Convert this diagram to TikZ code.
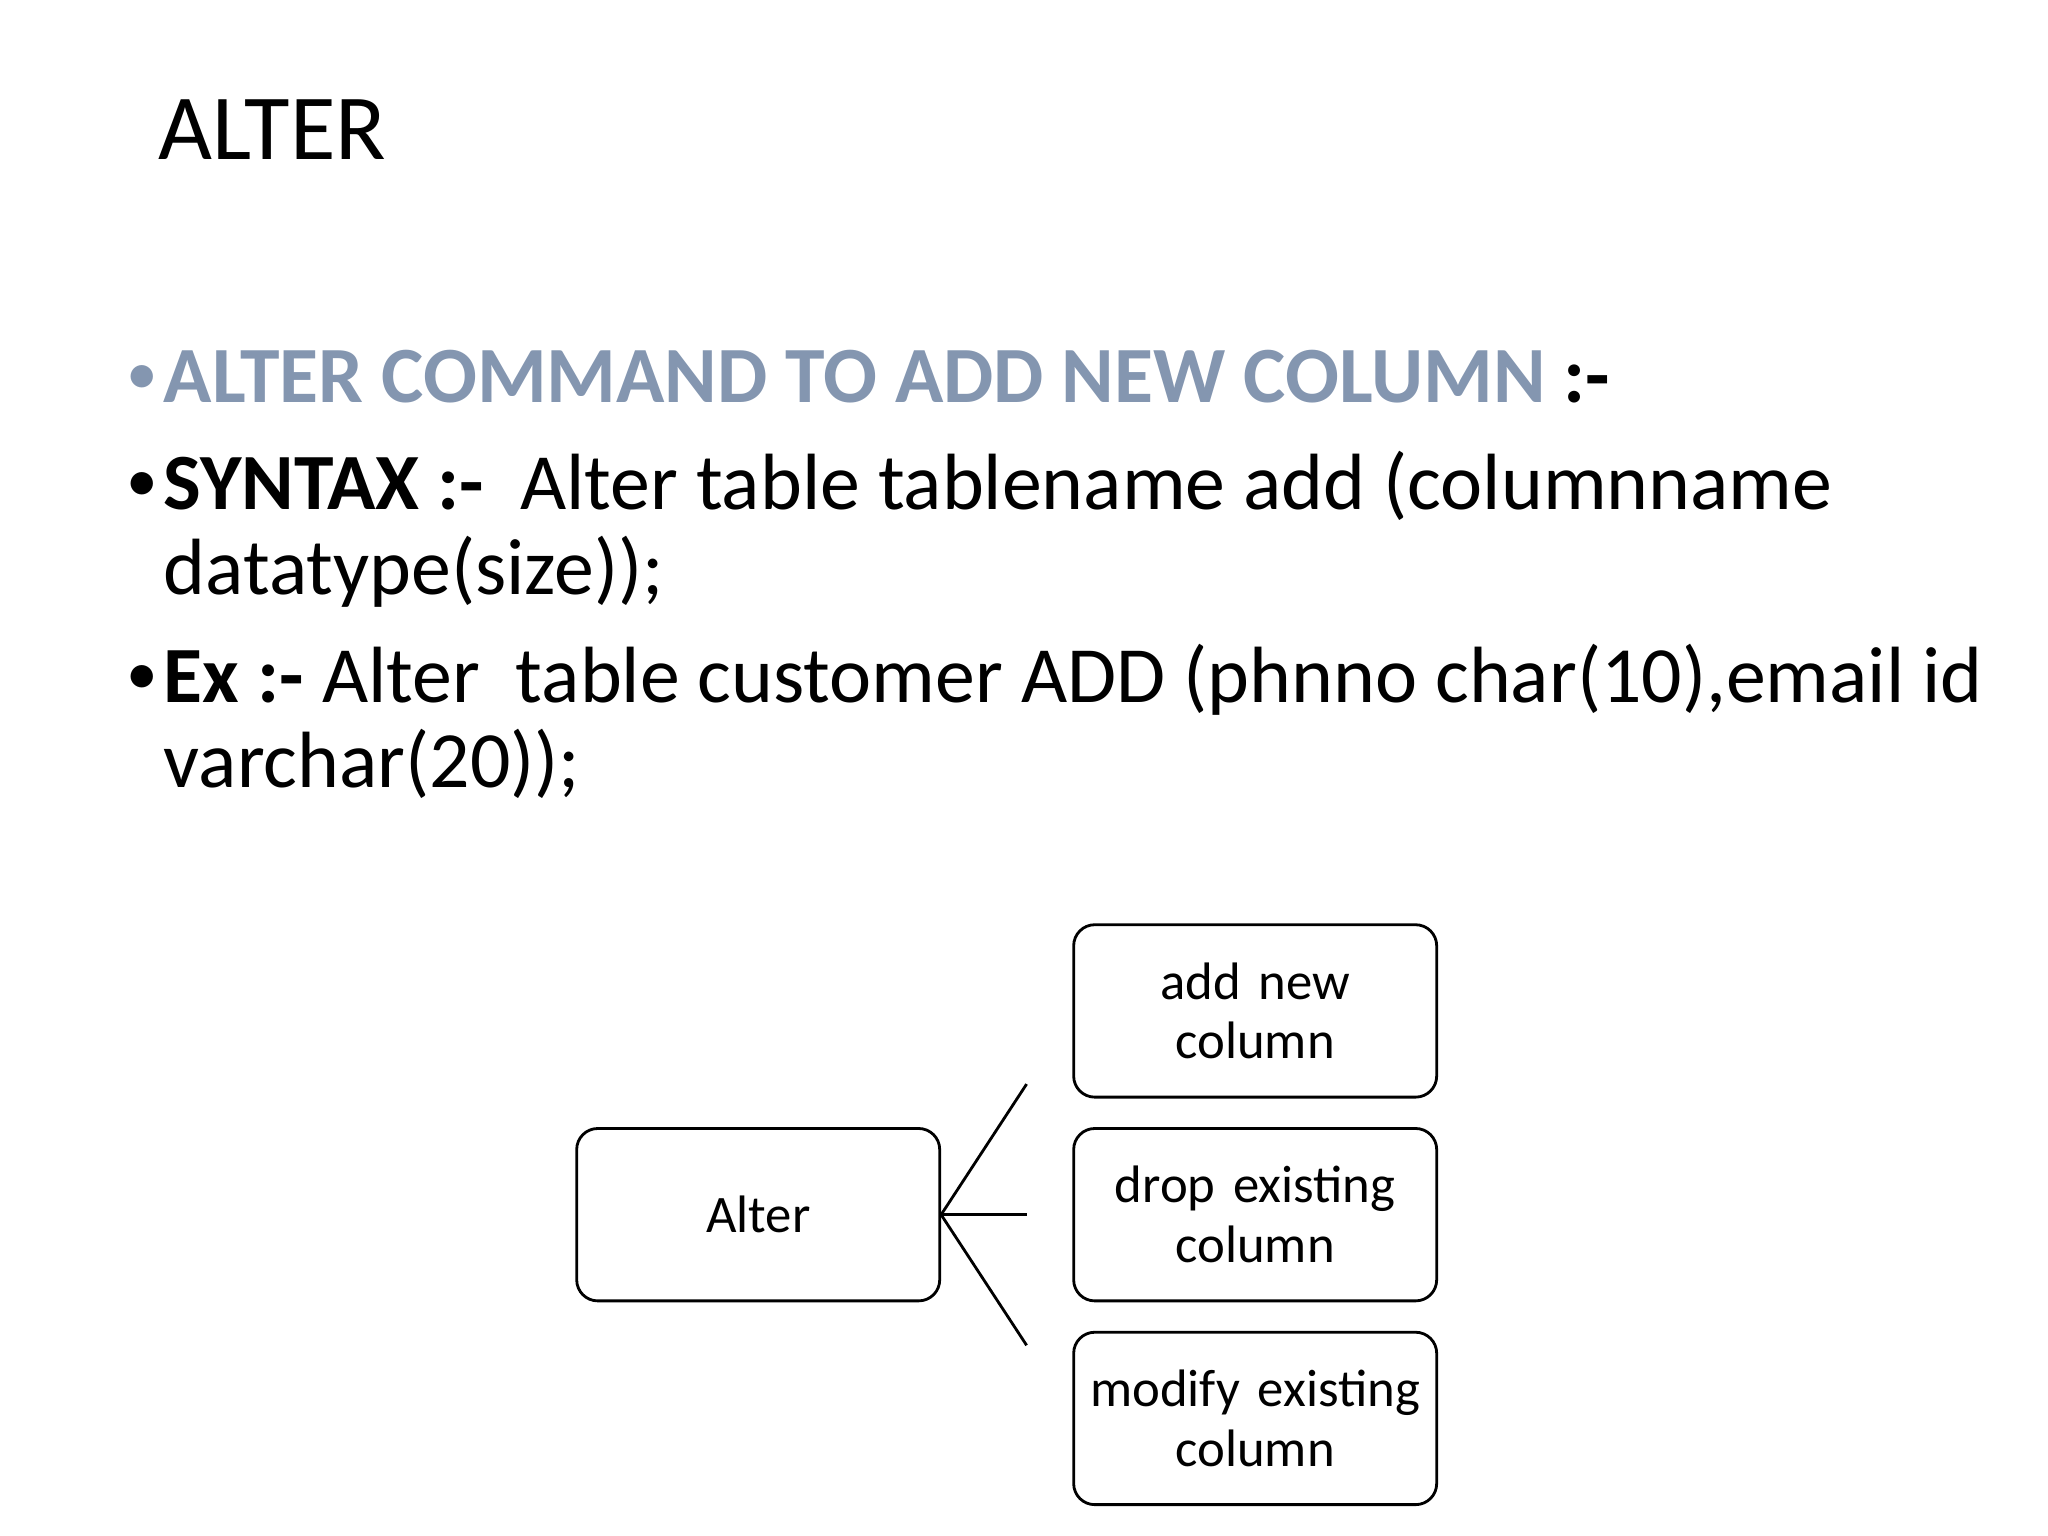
\documentclass[tikz,border=0pt]{standalone}
\usepackage{fontspec}
\setmainfont{Carlito}
\begin{document}
\begin{tikzpicture}[x=0.013061cm,y=-0.013061cm,
  txt/.style={anchor=base west,inner sep=0pt,font=\fontsize{22.7}{26}\selectfont},
  bul/.style={anchor=base west,inner sep=0pt,font=\fontsize{18}{20}\selectfont},
  bx/.style={draw,rounded corners=6pt,line width=0.8pt,minimum width=267*0.013061cm,minimum height=132*0.013061cm,align=center,font=\fontsize{15}{17}\selectfont,text width=260*0.013061cm},
  ln/.style={line width=0.8pt}]
\definecolor{hd}{HTML}{8496B0}
\useasboundingbox (0,0) rectangle (1568,1176);
\node[anchor=base west,inner sep=0pt,font=\fontsize{26.5}{30}\selectfont] (title) at (121,122) {ALTER};
\node[bul,text=hd] (b1) at (96,302) {•};
\node[txt] (l1) at (125,308) {\textcolor{hd}{\textbf{ALTER COMMAND TO ADD NEW COLUMN}} \textbf{:-}};
\node[bul] (b2) at (96,384) {•};
\node[txt] (l2) at (125,390) {\textbf{SYNTAX :-}\ \ Alter table tablename add (columnname};
\node[txt] (l3) at (125,455) {datatype(size));};
\node[bul] (b3) at (96,532) {•};
\node[txt] (l4) at (125,538) {\textbf{Ex :-} Alter\ \ table customer ADD (phnno char(10),email id};
\node[txt] (l5) at (125,603) {varchar(20));};
\node[bx] (alt) at (580.5,930) {Alter};
\node[bx] (add) at (961,774) {add new\\column};
\node[bx] (drop) at (961,930) {drop existing\\column};
\node[bx] (mod) at (961,1086) {modify existing\\column};
\coordinate (c1) at (786,830);
\coordinate (c2) at (786,930);
\coordinate (c3) at (786,1030);
\draw[ln] (alt.east) -- (c1);
\draw[ln] (alt.east) -- (c2);
\draw[ln] (alt.east) -- (c3);
\end{tikzpicture}
\end{document}
